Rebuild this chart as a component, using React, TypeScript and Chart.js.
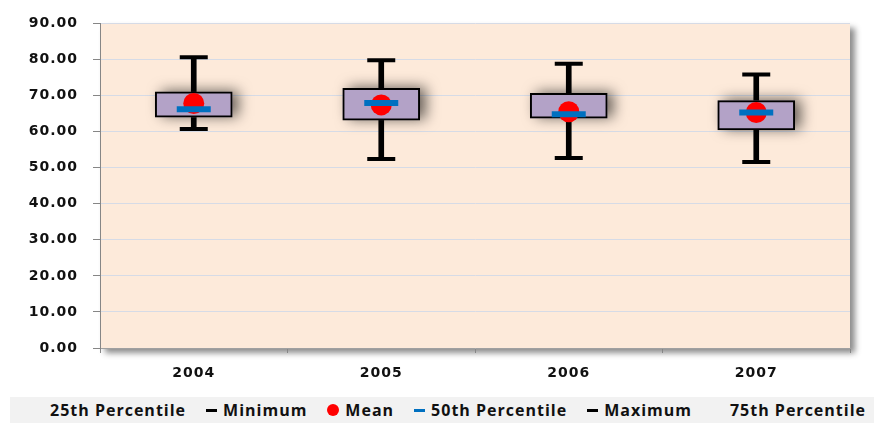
import React, { useEffect, useRef } from "react";
import { Chart, registerables } from "chart.js";

Chart.register(...registerables);

const categories = ["2004", "2005", "2006", "2007"];
const minimum = [60.7, 52.4, 52.7, 51.6];
const percentile25 = [64.0, 63.2, 63.7, 60.5];
const percentile50 = [66.2, 67.9, 64.8, 65.3];
const mean = [67.8, 67.4, 65.5, 65.3];
const percentile75 = [71.0, 72.0, 70.6, 68.6];
const maximum = [80.6, 79.8, 78.8, 75.8];
const yTicks = [0, 10, 20, 30, 40, 50, 60, 70, 80, 90];

const legendItems = [
  { label: "25th Percentile", marker: "none", color: "transparent" },
  { label: "Minimum", marker: "dash", color: "#000000" },
  { label: "Mean", marker: "dot", color: "#FF0000" },
  { label: "50th Percentile", marker: "dash", color: "#0070C0" },
  { label: "Maximum", marker: "dash", color: "#000000" },
  { label: "75th Percentile", marker: "none", color: "transparent" },
];

const isBox = (chart: any, args: any) => {
  const idx = args && args.meta ? args.meta.index : args ? args.index : -1;
  const ds = chart.data.datasets[idx];
  return !!ds && ds.label === "Box";
};

const visualPlugin = {
  id: "visualPlugin",
  beforeUpdate(chart: any) {
    try { chart.ctx.letterSpacing = "1px"; } catch (e) {}
  },
  beforeRender(chart: any) {
    try { chart.ctx.letterSpacing = "1px"; } catch (e) {}
  },
  beforeDraw(chart: any) {
    const { ctx, chartArea } = chart;
    ctx.save();
    ctx.shadowColor = "rgba(0,0,0,0.45)";
    ctx.shadowBlur = 6;
    ctx.shadowOffsetX = 5;
    ctx.shadowOffsetY = 5;
    ctx.fillStyle = "#FDEADA";
    ctx.fillRect(chartArea.left, chartArea.top, chartArea.right - chartArea.left, chartArea.bottom - chartArea.top);
    ctx.restore();
  },
  beforeDatasetDraw(chart: any, args: any) {
    if (!isBox(chart, args)) return;
    const meta = args.meta || chart.getDatasetMeta(args.index);
    const ctx = chart.ctx;
    ctx.save();
    ctx.shadowColor = "rgba(0,0,0,0.6)";
    ctx.shadowBlur = 14;
    ctx.shadowOffsetX = 6;
    ctx.shadowOffsetY = -1;
    ctx.fillStyle = "#B3A2C7";
    meta.data.forEach((el: any) => {
      const p = el.getProps(["x", "y", "base", "width"], true);
      const top = Math.min(p.y, p.base);
      const h = Math.abs(p.base - p.y);
      ctx.fillRect(p.x - p.width / 2, top, p.width, h);
    });
    ctx.restore();
  },
};

export default function App() {
  const canvasRef = useRef<HTMLCanvasElement | null>(null);

  useEffect(() => {
    if (!canvasRef.current) return;
    const chart = new Chart(canvasRef.current, {
      type: "bar",
      data: {
        labels: categories,
        datasets: [
          {
            type: "line",
            label: "50th Percentile",
            data: percentile50,
            showLine: false,
            pointStyle: "line",
            pointRadius: 17,
            pointHoverRadius: 17,
            pointBorderWidth: 6,
            pointBorderColor: "#0070C0",
            pointBackgroundColor: "#0070C0",
            order: 0,
          } as any,
          {
            type: "line",
            label: "Mean",
            data: mean,
            showLine: false,
            pointStyle: "circle",
            pointRadius: 10.5,
            pointHoverRadius: 10.5,
            pointBorderWidth: 0,
            pointBackgroundColor: "#FF0000",
            pointBorderColor: "#FF0000",
            order: 1,
          } as any,
          {
            type: "bar",
            label: "Box",
            data: percentile25.map((v, i) => [v, percentile75[i]]),
            backgroundColor: "#B3A2C7",
            borderColor: "#000000",
            borderWidth: 2,
            borderSkipped: false,
            barThickness: 77,
            grouped: false,
            order: 2,
          } as any,
          {
            type: "bar",
            label: "Whisker",
            data: minimum.map((v, i) => [v, maximum[i]]),
            backgroundColor: "#000000",
            borderWidth: 0,
            barThickness: 5,
            grouped: false,
            order: 3,
          } as any,
          {
            type: "line",
            label: "Minimum",
            data: minimum,
            showLine: false,
            pointStyle: "line",
            pointRadius: 14,
            pointHoverRadius: 14,
            pointBorderWidth: 4,
            pointBorderColor: "#000000",
            order: 4,
          } as any,
          {
            type: "line",
            label: "Maximum",
            data: maximum,
            showLine: false,
            pointStyle: "line",
            pointRadius: 14,
            pointHoverRadius: 14,
            pointBorderWidth: 4,
            pointBorderColor: "#000000",
            order: 4,
          } as any,
        ],
      },
      options: {
        responsive: false,
        animation: false,
        layout: { padding: { left: 0, right: 24, top: 22, bottom: 25 } },
        plugins: {
          legend: { display: false },
          tooltip: { enabled: false },
        },
        scales: {
          x: {
            type: "category",
            offset: true,
            grid: {
              offset: true,
              drawOnChartArea: false,
              drawTicks: true,
              tickLength: 5,
              color: "#868686",
            },
            border: { color: "#A0A0A0", width: 1 },
            ticks: {
              color: "#111111",
              padding: 12,
              font: { family: "DejaVu Sans", weight: "bold", size: 14 },
            },
            afterFit: (scale: any) => {
              scale.height = 50;
            },
          },
          y: {
            min: 0,
            max: 90,
            afterBuildTicks: (scale: any) => {
              scale.ticks = yTicks.map((v) => ({ value: v }));
            },
            grid: {
              color: "#D6DBE6",
              lineWidth: 1,
              tickLength: 7,
              tickColor: "#868686",
            },
            border: { color: "#868686", width: 1 },
            ticks: {
              color: "#111111",
              padding: 15,
              font: { family: "DejaVu Sans", weight: "bold", size: 14 },
              callback: (v: any) => Number(v).toFixed(2),
            },
            afterFit: (scale: any) => {
              scale.width = 100;
            },
          },
        },
      },
      plugins: [visualPlugin],
    });
    return () => chart.destroy();
  }, []);

  return (
    <div style={{ position: "fixed", left: 0, top: 0, width: 874, height: 423, background: "#FFFFFF", overflow: "hidden" }}>
      <canvas ref={canvasRef} width={874} height={423} style={{ position: "absolute", left: 0, top: 0, width: 874, height: 423 }} />
      <div
        style={{
          position: "absolute",
          left: 10,
          top: 397,
          width: 864,
          height: 26,
          background: "#F2F2F2",
          display: "flex",
          alignItems: "center",
          paddingLeft: 22,
          boxSizing: "border-box",
          gap: 20,
          fontFamily: "'Open Sans', sans-serif",
          fontWeight: 700,
          fontSize: 16,
          letterSpacing: "1px",
          color: "#111111",
          whiteSpace: "nowrap",
        }}
      >
        {legendItems.map((item) => (
          <div key={item.label} style={{ display: "flex", alignItems: "center" }}>
            <span
              style={{
                display: "inline-block",
                width: item.marker === "dot" ? 12 : item.marker === "dash" ? 11 : 12,
                height: item.marker === "dot" ? 12 : 3,
                borderRadius: item.marker === "dot" ? "50%" : 0,
                background: item.color,
                marginRight: 6,
              }}
            />
            <span>{item.label}</span>
          </div>
        ))}
      </div>
    </div>
  );
}
